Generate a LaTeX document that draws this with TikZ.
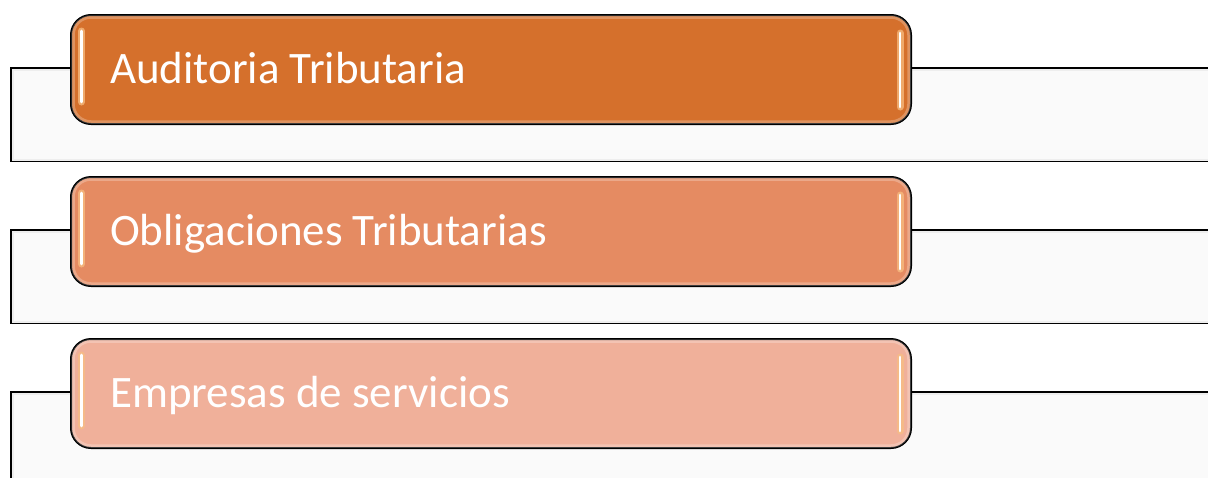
\documentclass[tikz,border=0pt]{standalone}
\usepackage{fontspec}
\setmainfont{Carlito}
\usetikzlibrary{calc}
\definecolor{cA}{RGB}{213,112,44}
\definecolor{cB}{RGB}{229,139,98}
\definecolor{cC}{RGB}{240,176,154}
\definecolor{backgray}{RGB}{250,250,250}
\definecolor{edgegray}{RGB}{238,238,238}
\definecolor{glow}{RGB}{248,190,130}
\begin{document}
\begin{tikzpicture}[x=1pt,y=-1pt,
  backbox/.style={rectangle, draw=black, line width=2pt, fill=backgray,
    minimum width=1202pt, minimum height=93pt, inner sep=0pt, anchor=north west},
  frontbox/.style={rectangle, draw=black, line width=2pt, rounded corners=20pt,
    minimum width=840pt, minimum height=109pt, inner sep=0pt, anchor=north west},
  boxlabel/.style={text=white, font=\fontsize{45}{50}\selectfont, anchor=base west, inner sep=0pt},
  bevel/.style={draw=white, opacity=0.25, line width=3.5pt, rounded corners=18pt},
  inneredge/.style={draw=edgegray, line width=2pt},
  hlglow/.style={draw=glow, line width=7pt, line cap=round, opacity=0.75},
  hlbar/.style={draw=white, line width=2.8pt, line cap=round}]
\useasboundingbox (0,0) rectangle (1208,477);
\clip (0,0) rectangle (1208,477);
\fill[white] (0,0) rectangle (1208,477);
\foreach \i/\y/\c/\t in {1/14/cA/Auditoria Tributaria,2/176/cB/Obligaciones Tributarias,3/338/cC/Empresas de servicios}{
  \node[backbox] (b\i) at (10,\y+53) {};
  \draw[inneredge] ($(b\i.north west)+(2.5,2.5)$) rectangle ($(b\i.south east)+(-2.5,-2.5)$);
  \node[frontbox, fill=\c] (f\i) at (70,\y) {};
  \draw[bevel] ($(f\i.north west)+(3,3)$) rectangle ($(f\i.south east)+(-3,-3)$);
  \draw[hlglow] ($(f\i.north west)+(11.5,17)$) -- ($(f\i.north west)+(11.5,88)$);
  \draw[hlbar] ($(f\i.north west)+(11.5,17)$) -- ($(f\i.north west)+(11.5,88)$);
  \draw[hlglow] ($(f\i.north east)+(-12,19)$) -- ($(f\i.north east)+(-12,93)$);
  \draw[hlbar] ($(f\i.north east)+(-12,19)$) -- ($(f\i.north east)+(-12,93)$);
  \node[boxlabel] (t\i) at ($(f\i.west)+(40,13.5)$) {\t};
}
\end{tikzpicture}
\end{document}
